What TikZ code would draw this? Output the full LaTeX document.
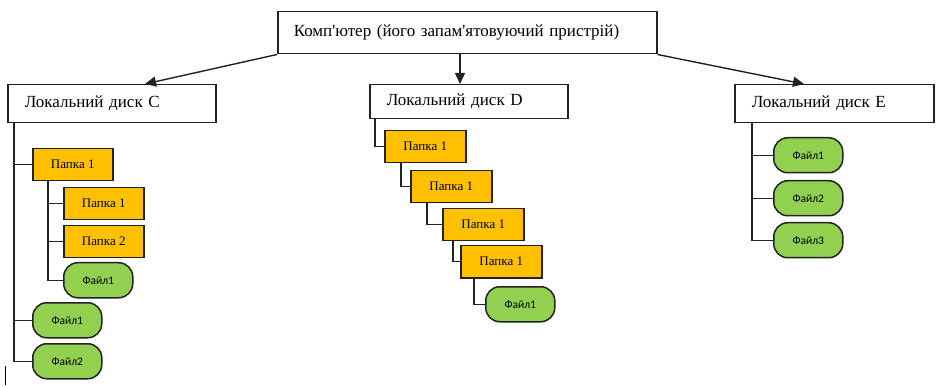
\documentclass[tikz,border=0pt]{standalone}
\usepackage{fontspec}
\setmainfont{Liberation Serif}[Ligatures=TeXOff]
\newfontfamily\filefont{Carlito}
\usetikzlibrary{arrows.meta}
\definecolor{folderfill}{HTML}{FFC000}
\definecolor{filefill}{HTML}{92D050}
\definecolor{edge}{HTML}{222222}
\tikzset{
  rootbox/.style={draw=edge, line width=1.5pt, fill=white, anchor=north west,
    inner xsep=16pt, inner ysep=0pt, align=left, font=\fontsize{17}{20}\selectfont},
  diskbox/.style={draw=edge, line width=1.5pt, fill=white, anchor=north west,
    inner xsep=17pt, inner ysep=0pt, align=left, font=\fontsize{17}{20}\selectfont},
  folder/.style={draw=edge, line width=1.5pt, fill=folderfill, anchor=north west,
    minimum width=80pt, minimum height=32pt, inner sep=0pt, font=\fontsize{13}{15}\selectfont},
  file/.style={draw=edge, line width=1.5pt, fill=filefill, anchor=north west,
    rounded corners=14pt, minimum width=69pt, minimum height=35pt, inner sep=0pt,
    font=\filefont\fontsize{11.5}{13}\selectfont},
  conn/.style={draw=edge, line width=1.4pt},
  arr/.style={draw=edge, line width=1.4pt, -{Triangle[length=11pt,width=10pt]}}
}
\begin{document}
\begin{tikzpicture}[x=1pt,y=-1pt]
\useasboundingbox (0,0) rectangle (939,387);

% root and the three disks
\node[rootbox, text width=347pt, minimum height=42pt] (root) at (277,11)
  {Комп'ютер (його запам'ятовуючий пристрій)};
\node[diskbox, text width=174pt, minimum height=38pt] (diskC) at (7,84) {Локальний диск C};
\node[diskbox, text width=164pt, minimum height=34pt] (diskD) at (369,84) {Локальний диск D};
\node[diskbox, text width=165pt, minimum height=38pt] (diskE) at (734,84) {Локальний диск E};

\coordinate (tipC) at (145,84);
\coordinate (tipE) at (804,84);
\draw[arr] (root.south west) -- (tipC);
\draw[arr] (root.south west -| 460,0) -- (diskD.north -| 460,0);
\draw[arr] (root.south east) -- (tipE);

% disk C
\node[folder] (c1) at (32,148) {Папка 1};
\node[folder] (c11) at (63,187) {Папка 1};
\node[folder] (c12) at (63,225) {Папка 2};
\node[file] (c1f) at (63,262) {Файл1};
\node[file] (cf1) at (32,302) {Файл1};
\node[file] (cf2) at (32,343) {Файл2};

\coordinate (trunkC) at ([xshift=7pt]diskC.south west);
\draw[conn] (trunkC) |- (cf2.west);
\draw[conn] (c1.west) -- (c1.west -| trunkC);
\draw[conn] (cf1.west) -- (cf1.west -| trunkC);
\coordinate (trunkC1) at ([xshift=16pt]c1.south west);
\draw[conn] (trunkC1) |- (c1f.west);
\draw[conn] (c11.west) -- (c11.west -| trunkC1);
\draw[conn] (c12.west) -- (c12.west -| trunkC1);

% disk D
\node[folder, minimum width=81pt] (d1) at (384,130) {Папка 1};
\node[folder, minimum width=81pt] (d2) at (410,170) {Папка 1};
\node[folder, minimum width=81pt] (d3) at (442,208) {Папка 1};
\node[folder, minimum width=81pt] (d4) at (460,245) {Папка 1};
\node[file] (df1) at (485,286) {Файл1};

\draw[conn] ([xshift=6pt]diskD.south west) |- (d1.west);
\draw[conn] ([xshift=17pt]d1.south west) |- (d2.west);
\draw[conn] ([xshift=17pt]d2.south west) |- (d3.west);
\draw[conn] ([xshift=11pt]d3.south west) |- (d4.west);
\draw[conn] ([xshift=14pt]d4.south west) |- (df1.west);

% disk E
\node[file] (ef1) at (773,137) {Файл1};
\node[file] (ef2) at (773,180) {Файл2};
\node[file] (ef3) at (773,222) {Файл3};

\coordinate (trunkE) at ([xshift=18pt]diskE.south west);
\draw[conn] (trunkE) |- (ef3.west);
\draw[conn] (ef1.west) -- (ef1.west -| trunkE);
\draw[conn] (ef2.west) -- (ef2.west -| trunkE);

% text cursor mark
\draw[black, line width=1pt] (5,366) -- (5,385);
\end{tikzpicture}
\end{document}
